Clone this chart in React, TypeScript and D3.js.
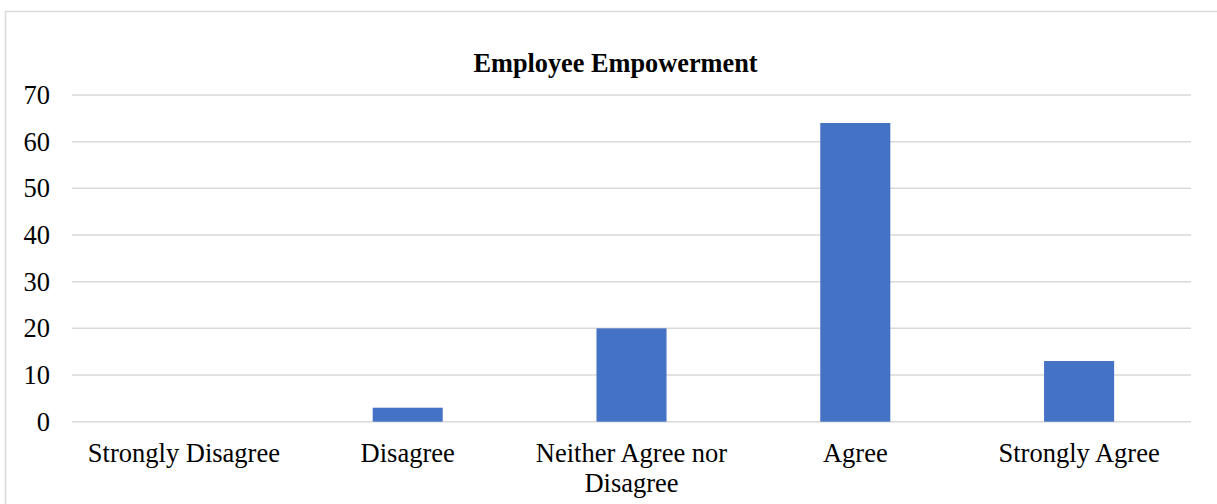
import React, { useEffect, useRef } from "react";
import * as d3 from "d3";

const categories = [
  "Strongly Disagree",
  "Disagree",
  "Neither Agree nor Disagree",
  "Agree",
  "Strongly Agree",
];
const values = [0, 3, 20, 64, 13];
const yTicks = [0, 10, 20, 30, 40, 50, 60, 70];
const title = "Employee Empowerment";

const W = 1217;
const H = 504;
const plot = { left: 72, right: 1191, top: 95, bottom: 421.7 };
const FONT = "'Liberation Serif', 'Times New Roman', serif";

export default function App() {
  const ref = useRef<SVGSVGElement | null>(null);

  useEffect(() => {
    const svg = d3.select(ref.current);
    svg.selectAll("*").remove();

    const x = d3
      .scaleBand<string>()
      .domain(categories)
      .range([plot.left, plot.right])
      .paddingInner(0.687)
      .paddingOuter(0.3435);
    const y = d3.scaleLinear().domain([0, 70]).range([plot.bottom, plot.top]);

    // outer frame
    svg
      .append("rect")
      .attr("x", 5.5)
      .attr("y", 11.5)
      .attr("width", W + 20)
      .attr("height", H + 20)
      .attr("fill", "white")
      .attr("stroke", "#d9d9d9")
      .attr("stroke-width", 1.5);

    // title
    svg
      .append("text")
      .attr("x", 615.5)
      .attr("y", 72)
      .attr("text-anchor", "middle")
      .attr("font-family", FONT)
      .attr("font-weight", "bold")
      .attr("font-size", 26.3)
      .attr("fill", "#000")
      .text(title);

    // gridlines
    svg
      .append("g")
      .selectAll("line")
      .data(yTicks)
      .join("line")
      .attr("x1", plot.left)
      .attr("x2", plot.right)
      .attr("y1", (d) => y(d))
      .attr("y2", (d) => y(d))
      .attr("stroke", "#d9d9d9")
      .attr("stroke-width", 1.5);

    // y tick labels
    svg
      .append("g")
      .selectAll("text")
      .data(yTicks)
      .join("text")
      .attr("x", 50)
      .attr("y", (d) => y(d) + 9)
      .attr("text-anchor", "end")
      .attr("font-family", FONT)
      .attr("font-size", 26.5)
      .attr("fill", "#000")
      .text((d) => String(d));

    // bars
    svg
      .append("g")
      .selectAll("rect")
      .data(values)
      .join("rect")
      .attr("x", (_, i) => x(categories[i]) as number)
      .attr("width", x.bandwidth())
      .attr("y", (d) => y(d))
      .attr("height", (d) => y(0) - y(d))
      .attr("fill", "#4472C4");

    // category labels, wrapped to the band step
    const maxW = x.step() * 0.95;
    const labels = svg.append("g");
    categories.forEach((c) => {
      const cx = (x(c) as number) + x.bandwidth() / 2;
      const t = labels
        .append("text")
        .attr("x", cx)
        .attr("y", 462)
        .attr("text-anchor", "middle")
        .attr("font-family", FONT)
        .attr("font-size", 26.5)
        .attr("fill", "#000");
      const words = c.split(" ");
      let line: string[] = [];
      let lineNo = 0;
      let tspan = t.append("tspan").attr("x", cx).attr("y", 462);
      words.forEach((w) => {
        line.push(w);
        tspan.text(line.join(" "));
        const node = tspan.node() as SVGTextContentElement;
        if (node.getComputedTextLength() > maxW && line.length > 1) {
          line.pop();
          tspan.text(line.join(" "));
          line = [w];
          lineNo += 1;
          tspan = t
            .append("tspan")
            .attr("x", cx)
            .attr("y", 462 + lineNo * 30)
            .text(w);
        }
      });
    });
  }, []);

  return (
    <svg
      ref={ref}
      width={W}
      height={H}
      style={{ position: "absolute", left: 0, top: 0, background: "white" }}
    />
  );
}
